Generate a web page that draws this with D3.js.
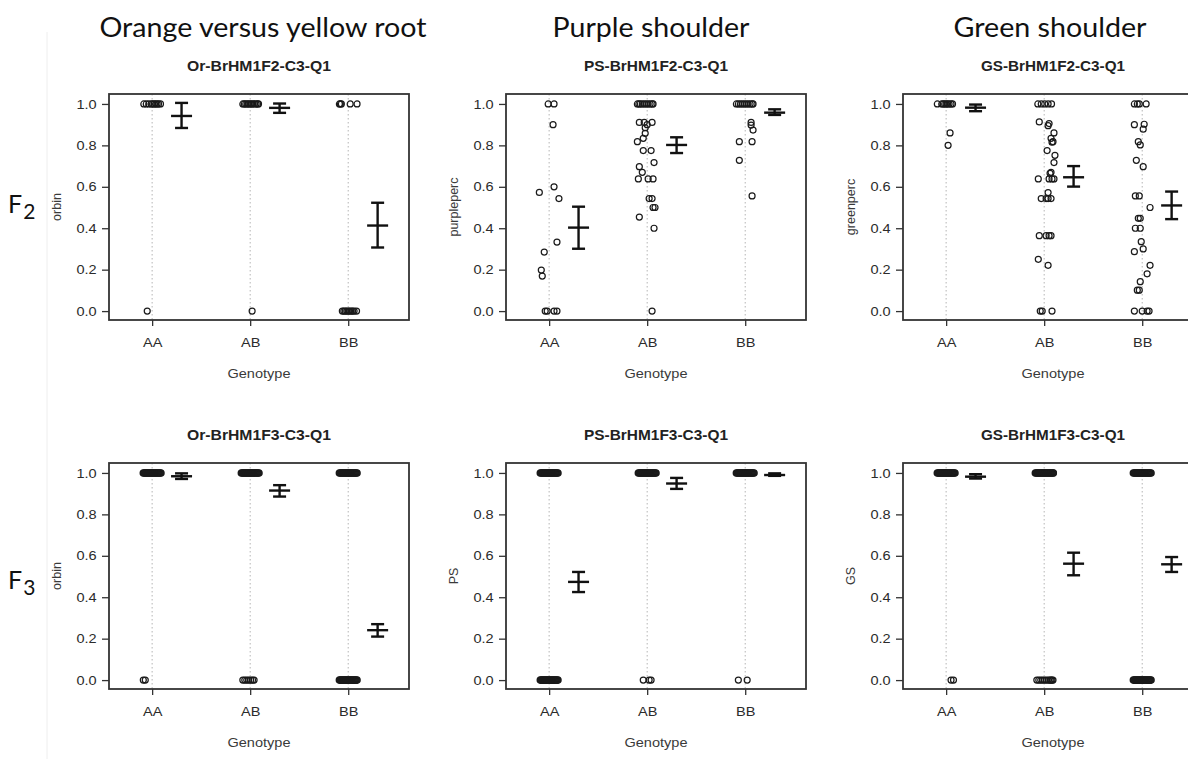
<!DOCTYPE html>
<html>
<head>
<meta charset="utf-8">
<script src="https://cdn.jsdelivr.net/npm/d3@7"></script>
<style>
  html, body { margin: 0; padding: 0; background: #fff; }
  svg { display: block; }
</style>
</head>
<body>
<div id="chart"></div>
<script>
var genotypes = ['AA', 'AB', 'BB'];
var traitHeaders = ['Orange versus yellow root', 'Purple shoulder', 'Green shoulder'];
var generations = ['2', '3'];
var panelTitles = ['Or-BrHM1F2-C3-Q1', 'PS-BrHM1F2-C3-Q1', 'GS-BrHM1F2-C3-Q1',
                   'Or-BrHM1F3-C3-Q1', 'PS-BrHM1F3-C3-Q1', 'GS-BrHM1F3-C3-Q1'];
var yLabels = ['orbin', 'purpleperc', 'greenperc', 'orbin', 'PS', 'GS'];
var yTicks = [0, 0.2, 0.4, 0.6, 0.8, 1.0];

// single observations: [genotype index, jitter offset, value]
var orF2Points = [
  [0, -0.085, 1], [0, -0.06, 1], [0, -0.035, 1], [0, -0.01, 1], [0, 0.005, 1], [0, 0.02, 1],
  [0, 0.035, 1], [0, 0.05, 1], [0, 0.065, 1], [0, 0.085, 1],
  [0, -0.05, 0],
  [1, -0.075, 1], [1, -0.06, 1], [1, -0.045, 1], [1, -0.03, 1], [1, -0.015, 1], [1, 0, 1],
  [1, 0.015, 1], [1, 0.03, 1], [1, 0.045, 1], [1, 0.06, 1], [1, 0.075, 1], [1, 0.085, 1],
  [1, 0.02, 0],
  [2, -0.09, 1], [2, -0.08, 1], [2, -0.07, 1], [2, 0.02, 1], [2, 0.09, 1],
  [2, -0.06, 0], [2, -0.045, 0], [2, -0.03, 0], [2, -0.015, 0], [2, 0, 0], [2, 0.015, 0],
  [2, 0.03, 0], [2, 0.045, 0], [2, 0.06, 0], [2, 0.085, 0]
];
var psF2Points = [
  [0, -0.01, 1], [0, 0.05, 1], [0, 0.04, 0.90], [0, 0.05, 0.60], [0, -0.10, 0.573],
  [0, 0.10, 0.543], [0, 0.08, 0.333], [0, -0.05, 0.285], [0, -0.08, 0.198], [0, -0.07, 0.169],
  [0, -0.04, 0], [0, -0.02, 0], [0, 0.05, 0], [0, 0.08, 0],
  [1, -0.10, 1], [1, -0.085, 1], [1, -0.07, 1], [1, -0.05, 1], [1, -0.03, 1], [1, -0.01, 1],
  [1, 0.01, 1], [1, 0.03, 1], [1, 0.05, 1], [1, 0.06, 1],
  [1, -0.08, 0.911], [1, -0.03, 0.911], [1, 0.0, 0.90], [1, -0.02, 0.885], [1, 0.05, 0.911],
  [1, -0.02, 0.858], [1, -0.04, 0.834], [1, -0.10, 0.818], [1, -0.04, 0.775], [1, 0.04, 0.775],
  [1, 0.07, 0.717], [1, -0.08, 0.697], [1, -0.05, 0.670], [1, -0.09, 0.638], [1, 0.01, 0.638],
  [1, 0.06, 0.638], [1, 0.02, 0.543], [1, 0.05, 0.543], [1, 0.06, 0.50], [1, 0.08, 0.50],
  [1, -0.08, 0.454], [1, 0.07, 0.40], [1, 0.05, 0],
  [2, -0.09, 1], [2, -0.07, 1], [2, -0.05, 1], [2, -0.03, 1], [2, -0.01, 1], [2, 0.01, 1],
  [2, 0.03, 1], [2, 0.05, 1], [2, 0.07, 1], [2, 0.08, 1],
  [2, 0.06, 0.911], [2, 0.06, 0.898], [2, 0.08, 0.874], [2, -0.06, 0.818], [2, 0.07, 0.818],
  [2, -0.06, 0.728], [2, 0.07, 0.556]
];
var gsF2Points = [
  [0, -0.09, 1], [0, -0.045, 1], [0, -0.03, 1], [0, -0.015, 1], [0, 0, 1], [0, 0.015, 1],
  [0, 0.03, 1], [0, 0.05, 1], [0, 0.065, 1],
  [0, 0.04, 0.86], [0, 0.02, 0.80],
  [1, -0.065, 1], [1, -0.03, 1], [1, 0.005, 1], [1, 0.04, 1], [1, 0.075, 1],
  [1, -0.05, 0.913], [1, 0.05, 0.905], [1, 0.04, 0.895], [1, 0.10, 0.86], [1, 0.07, 0.834],
  [1, 0.09, 0.818], [1, 0.08, 0.815], [1, 0.03, 0.775], [1, 0.11, 0.752], [1, 0.10, 0.717],
  [1, 0.07, 0.67], [1, 0.06, 0.665], [1, -0.06, 0.638], [1, 0.05, 0.638], [1, 0.08, 0.638],
  [1, 0.10, 0.638], [1, 0.04, 0.572], [1, -0.03, 0.543], [1, 0.02, 0.543], [1, 0.04, 0.543],
  [1, 0.07, 0.543], [1, -0.05, 0.364], [1, 0.02, 0.364], [1, 0.05, 0.364], [1, 0.07, 0.364],
  [1, -0.06, 0.25], [1, 0.04, 0.221], [1, -0.04, 0], [1, -0.02, 0], [1, 0.08, 0],
  [2, -0.08, 1], [2, -0.05, 1], [2, -0.03, 1], [2, 0.04, 1], [2, -0.08, 0.90], [2, 0.02, 0.902],
  [2, 0.01, 0.878], [2, -0.04, 0.818], [2, -0.02, 0.802], [2, -0.06, 0.728], [2, 0.01, 0.697],
  [2, -0.07, 0.556], [2, -0.03, 0.556], [2, 0.08, 0.50], [2, -0.04, 0.448], [2, -0.02, 0.448],
  [2, -0.07, 0.40], [2, -0.02, 0.40], [2, -0.01, 0.335], [2, -0.08, 0.287], [2, 0.01, 0.30],
  [2, 0.08, 0.221], [2, 0.05, 0.18], [2, -0.02, 0.142], [2, -0.05, 0.101], [2, -0.03, 0.101],
  [2, -0.08, 0], [2, 0, 0], [2, 0.05, 0], [2, 0.07, 0]
];
var orF3Points = [
  [0, -0.09, 0], [0, -0.07, 0],
  [1, -0.075, 0], [1, -0.055, 0], [1, -0.035, 0], [1, -0.015, 0], [1, 0.005, 0], [1, 0.025, 0], [1, 0.04, 0]
];
var psF3Points = [
  [1, -0.04, 0], [1, 0.02, 0], [1, 0.04, 0],
  [2, -0.07, 0], [2, 0.02, 0]
];
var gsF3Points = [
  [0, 0.05, 0], [0, 0.075, 0],
  [1, 0.095, 1],
  [1, -0.075, 0], [1, -0.055, 0], [1, -0.035, 0], [1, -0.015, 0], [1, 0.005, 0], [1, 0.025, 0],
  [1, 0.045, 0], [1, 0.06, 0], [1, 0.07, 0], [1, 0.08, 0], [1, 0.09, 0]
];

// long runs of overlapping observations: [genotype index, value]
var denseOffsets = [-0.09, -0.08, -0.07, -0.06, -0.05, -0.04, -0.03, -0.02, -0.01, 0,
                    0.01, 0.02, 0.03, 0.04, 0.05, 0.06, 0.07, 0.08, 0.09];
var orF3Runs = [[0, 1], [1, 1], [2, 1], [2, 0]];
var psF3Runs = [[0, 1], [0, 0], [1, 1], [2, 1]];
var gsF3Runs = [[0, 1], [1, 1], [2, 1], [2, 0]];

// mean with error bar per genotype: [mean, lower, upper]
var orF2Bars = [[0.942, 0.884, 1.005], [0.981, 0.957, 1.002], [0.413, 0.307, 0.523]];
var psF2Bars = [[0.403, 0.301, 0.504], [0.802, 0.763, 0.839], [0.958, 0.947, 0.974]];
var gsF2Bars = [[0.982, 0.965, 0.997], [0.646, 0.601, 0.700], [0.510, 0.444, 0.577]];
var orF3Bars = [[0.984, 0.971, 0.998], [0.915, 0.886, 0.941], [0.241, 0.210, 0.270]];
var psF3Bars = [[0.474, 0.425, 0.522], [0.949, 0.923, 0.976], [0.990, 0.986, 0.998]];
var gsF3Bars = [[0.982, 0.973, 0.994], [0.562, 0.506, 0.615], [0.559, 0.522, 0.594]];

(function () {
  var width = 1188, height = 759;
  var boxW = 300, boxH = 226;
  var colLeft = [109, 506, 903];
  var rowTop = [94, 463];
  var barOffset = 0.30;
  var stretch = 'scale(1.12,1)';
  var rFont = '"Liberation Sans", Arial, sans-serif';
  var slideFont = 'Lato, "Open Sans", sans-serif';

  var svg = d3.select('#chart')
    .append('svg')
    .attr('width', width)
    .attr('height', height)
    .attr('viewBox', [0, 0, width, height]);

  // faint edge of the pasted R images
  svg.append('line')
    .attr('x1', 47).attr('x2', 47).attr('y1', 32).attr('y2', height)
    .attr('stroke', '#eeeeee').attr('stroke-width', 1);

  var x = d3.scaleLinear().domain([0.56, 3.62]).range([0, boxW]);
  var y = d3.scaleLinear().domain([-0.043, 1.048]).range([boxH, 0]);

  var panels = [
    { pts: orF2Points, runs: [], bars: orF2Bars },
    { pts: psF2Points, runs: [], bars: psF2Bars },
    { pts: gsF2Points, runs: [], bars: gsF2Bars },
    { pts: orF3Points, runs: orF3Runs, bars: orF3Bars },
    { pts: psF3Points, runs: psF3Runs, bars: psF3Bars },
    { pts: gsF3Points, runs: gsF3Runs, bars: gsF3Bars }
  ];

  // Column headers
  var headerCenter = [263, 651, 1050];
  var headerWidth = [327, 197, 193];
  traitHeaders.forEach(function (t, i) {
    svg.append('text')
      .attr('x', headerCenter[i])
      .attr('y', 37)
      .attr('text-anchor', 'middle')
      .attr('font-family', slideFont)
      .attr('font-size', 26)
      .attr('fill', '#111')
      .attr('textLength', headerWidth[i])
      .attr('lengthAdjust', 'spacingAndGlyphs')
      .text(t);
  });

  // Row labels F2 / F3
  var rowLabelY = [213, 589];
  generations.forEach(function (gname, i) {
    var t = svg.append('text')
      .attr('x', 8)
      .attr('y', rowLabelY[i])
      .attr('font-family', slideFont)
      .attr('font-size', 25)
      .attr('fill', '#111');
    t.append('tspan').text('F');
    t.append('tspan').attr('font-size', 21).attr('dy', 6).attr('dx', 1).text(gname);
  });

  panels.forEach(function (p, i) {
    var col = i % 3, row = Math.floor(i / 3);
    var g = svg.append('g')
      .attr('transform', 'translate(' + colLeft[col] + ',' + rowTop[row] + ')');

    // Title
    g.append('text')
      .attr('x', boxW / 2)
      .attr('y', -23)
      .attr('text-anchor', 'middle')
      .attr('font-family', rFont)
      .attr('font-weight', 'bold')
      .attr('font-size', 14)
      .attr('fill', '#222')
      .attr('textLength', 144)
      .attr('lengthAdjust', 'spacingAndGlyphs')
      .text(panelTitles[i]);

    // Dotted category guides
    g.append('g')
      .selectAll('line')
      .data(genotypes)
      .join('line')
      .attr('x1', function (d, k) { return x(k + 1); })
      .attr('x2', function (d, k) { return x(k + 1); })
      .attr('y1', 0)
      .attr('y2', boxH)
      .attr('stroke', '#b5b5b5')
      .attr('stroke-width', 1)
      .attr('stroke-dasharray', '1.5,2.5');

    // Points: explicit ones, then dense runs
    var runPts = [];
    p.runs.forEach(function (r) {
      denseOffsets.forEach(function (o) { runPts.push([r[0], o, r[1]]); });
    });
    [[p.pts, 1.2], [runPts, 1.6]].forEach(function (set) {
      g.append('g')
        .selectAll('circle')
        .data(set[0])
        .join('circle')
        .attr('cx', function (d) { return x(d[0] + 1 + d[1]); })
        .attr('cy', function (d) { return y(d[2]); })
        .attr('r', 3.0)
        .attr('fill', 'none')
        .attr('stroke', '#1a1a1a')
        .attr('stroke-width', set[1]);
    });

    // Mean and error bars
    var eb = g.append('g')
      .selectAll('g')
      .data(p.bars)
      .join('g')
      .attr('transform', function (d, k) { return 'translate(' + x(k + 1 + barOffset) + ',0)'; })
      .attr('stroke', '#111')
      .attr('stroke-width', 2.4);
    eb.append('line')
      .attr('x1', 0).attr('x2', 0)
      .attr('y1', function (d) { return y(d[1]); })
      .attr('y2', function (d) { return y(d[2]); });
    eb.append('line')
      .attr('x1', -6.5).attr('x2', 6.5)
      .attr('y1', function (d) { return y(d[1]); })
      .attr('y2', function (d) { return y(d[1]); });
    eb.append('line')
      .attr('x1', -6.5).attr('x2', 6.5)
      .attr('y1', function (d) { return y(d[2]); })
      .attr('y2', function (d) { return y(d[2]); });
    eb.append('line')
      .attr('x1', -10.5).attr('x2', 10.5)
      .attr('y1', function (d) { return y(d[0]); })
      .attr('y2', function (d) { return y(d[0]); });

    // Axes
    var yAxis = g.append('g')
      .call(d3.axisLeft(y).tickValues(yTicks).tickFormat(d3.format('.1f')).tickSize(7).tickPadding(4));
    var xAxis = g.append('g')
      .attr('transform', 'translate(0,' + boxH + ')')
      .call(d3.axisBottom(x).tickValues([1, 2, 3])
        .tickFormat(function (d) { return genotypes[d - 1]; })
        .tickSize(6).tickPadding(12));
    [yAxis, xAxis].forEach(function (ax) {
      ax.select('.domain').remove();
      ax.selectAll('line').attr('stroke', '#333').attr('stroke-width', 1.3);
      ax.selectAll('text')
        .attr('font-family', rFont)
        .attr('font-size', 13)
        .attr('fill', '#2b2b2b')
        .attr('transform', stretch);
    });

    // Box
    g.append('rect')
      .attr('x', 0).attr('y', 0)
      .attr('width', boxW).attr('height', boxH)
      .attr('fill', 'none')
      .attr('stroke', '#333')
      .attr('stroke-width', 1.8);

    // Axis titles
    g.append('text')
      .attr('transform', 'translate(-48,' + (boxH / 2) + ') rotate(-90)')
      .attr('text-anchor', 'middle')
      .attr('font-family', rFont)
      .attr('font-size', 12.5)
      .attr('fill', '#3a3a3a')
      .text(yLabels[i]);

    g.append('text')
      .attr('transform', 'translate(' + (boxW / 2) + ',' + (boxH + 58) + ') ' + stretch)
      .attr('text-anchor', 'middle')
      .attr('font-family', rFont)
      .attr('font-size', 13)
      .attr('fill', '#3a3a3a')
      .text('Genotype');
  });
})();
</script>
</body>
</html>
